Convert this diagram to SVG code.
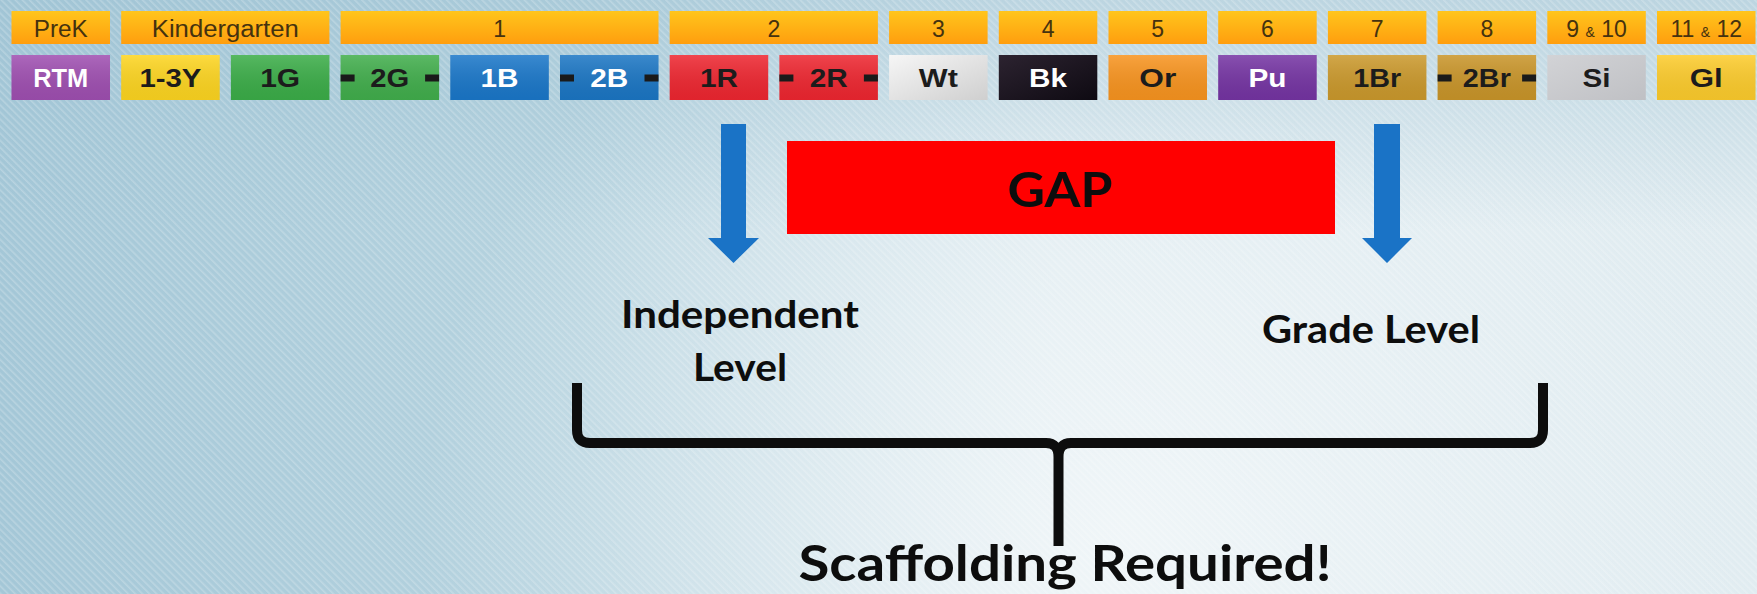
<svg xmlns="http://www.w3.org/2000/svg" width="1757" height="594" viewBox="0 0 1757 594">
  <defs>
    <linearGradient id="bgH" x1="0" y1="0" x2="1757" y2="0" gradientUnits="userSpaceOnUse">
      <stop offset="0" stop-color="#a4c7d7"/>
      <stop offset="0.33" stop-color="#b6d3df"/>
      <stop offset="0.6" stop-color="#dae8ee"/>
      <stop offset="1" stop-color="#dfebf0"/>
    </linearGradient>
    <radialGradient id="bgR" cx="1120" cy="540" r="700" gradientUnits="userSpaceOnUse">
      <stop offset="0" stop-color="#f2f7f9" stop-opacity="0.9"/>
      <stop offset="1" stop-color="#f2f7f9" stop-opacity="0"/>
    </radialGradient>
    <linearGradient id="bgTop" x1="0" y1="0" x2="0" y2="230" gradientUnits="userSpaceOnUse">
      <stop offset="0" stop-color="#9fc3d4" stop-opacity="0.55"/>
      <stop offset="1" stop-color="#9fc3d4" stop-opacity="0"/>
    </linearGradient>
    <pattern id="stripes" width="5" height="5" patternUnits="userSpaceOnUse" patternTransform="rotate(-45)">
      <rect x="0" y="0" width="1.6" height="5" fill="#ffffff" fill-opacity="0.22"/>
    </pattern>
    <linearGradient id="hdr" x1="0" y1="0" x2="0" y2="1">
      <stop offset="0" stop-color="#ffc51c"/>
      <stop offset="1" stop-color="#ff9e0e"/>
    </linearGradient>
    <linearGradient id="shine" x1="0" y1="0" x2="0" y2="1">
      <stop offset="0" stop-color="#ffffff" stop-opacity="0.14"/>
      <stop offset="1" stop-color="#000000" stop-opacity="0.06"/>
    </linearGradient>
    <linearGradient id="gWt" x1="0" y1="0" x2="1" y2="1">
      <stop offset="0" stop-color="#f6f6f6"/>
      <stop offset="1" stop-color="#cfcfcf"/>
    </linearGradient>
    <linearGradient id="gBk" x1="0" y1="0" x2="1" y2="1">
      <stop offset="0" stop-color="#2c2330"/>
      <stop offset="1" stop-color="#0e0a12"/>
    </linearGradient>
    <linearGradient id="gSi" x1="0" y1="0" x2="1" y2="1">
      <stop offset="0" stop-color="#d2d3d6"/>
      <stop offset="1" stop-color="#bfc0c4"/>
    </linearGradient>
    <style>
      .hdr { fill: url(#hdr); }
      .ht { font-family: "Liberation Sans", Arial, sans-serif; font-size: 23px; fill: #45320f; text-anchor: middle; }
      .bt { font-family: "Liberation Sans", Arial, sans-serif; font-size: 25px; font-weight: bold; fill: #1c1c1c; text-anchor: middle; }
      .wt { fill: #ffffff; }
      .dash { fill: #1a1a1a; }
      .big { font-family: Lato, "Open Sans", sans-serif; font-weight: bold; fill: #0d0d0d; text-anchor: middle; }
      .arrow { fill: #1a73c6; }
      .brace { fill: none; stroke: #0d0d0d; stroke-width: 10; stroke-linejoin: round; }
    </style>
  </defs>

  <!-- background -->
  <rect x="0" y="0" width="1757" height="594" fill="url(#bgH)"/>
  <rect x="0" y="0" width="1757" height="594" fill="url(#bgR)"/>
  <rect x="0" y="0" width="1757" height="594" fill="url(#bgTop)"/>
  <rect x="0" y="0" width="1757" height="594" fill="url(#stripes)"/>

  <!-- grade headers -->
  <g id="grade-headers">
    <g id="h-prek"><rect class="hdr" x="11.5" y="11" width="98.5" height="33"/><text class="ht" x="60.75" y="37" textLength="54" lengthAdjust="spacingAndGlyphs">PreK</text></g>
    <g id="h-k"><rect class="hdr" x="121.2" y="11" width="208.2" height="33"/><text class="ht" x="225.3" y="37" textLength="147" lengthAdjust="spacingAndGlyphs">Kindergarten</text></g>
    <g id="h-1"><rect class="hdr" x="340.6" y="11" width="317.9" height="33"/><text class="ht" x="499.55" y="37">1</text></g>
    <g id="h-2"><rect class="hdr" x="669.7" y="11" width="208.2" height="33"/><text class="ht" x="773.8" y="37">2</text></g>
    <g id="h-3"><rect class="hdr" x="889.1" y="11" width="98.5" height="33"/><text class="ht" x="938.35" y="37">3</text></g>
    <g id="h-4"><rect class="hdr" x="998.8" y="11" width="98.5" height="33"/><text class="ht" x="1048.05" y="37">4</text></g>
    <g id="h-5"><rect class="hdr" x="1108.5" y="11" width="98.5" height="33"/><text class="ht" x="1157.75" y="37">5</text></g>
    <g id="h-6"><rect class="hdr" x="1218.2" y="11" width="98.5" height="33"/><text class="ht" x="1267.45" y="37">6</text></g>
    <g id="h-7"><rect class="hdr" x="1327.9" y="11" width="98.5" height="33"/><text class="ht" x="1377.15" y="37">7</text></g>
    <g id="h-8"><rect class="hdr" x="1437.6" y="11" width="98.5" height="33"/><text class="ht" x="1486.85" y="37">8</text></g>
    <g id="h-9-10"><rect class="hdr" x="1547.3" y="11" width="98.5" height="33"/><text class="ht" x="1596.55" y="37">9 <tspan font-size="14">&amp;</tspan> 10</text></g>
    <g id="h-11-12"><rect class="hdr" x="1657" y="11" width="98.5" height="33"/><text class="ht" x="1706.25" y="37">11 <tspan font-size="14">&amp;</tspan> 12</text></g>
  </g>

  <!-- level boxes -->
  <g id="levels">
    <g id="l-rtm"><rect x="11.5" y="55" width="98.5" height="45" fill="#9f4fb1"/><rect x="11.5" y="55" width="98.5" height="45" fill="url(#shine)"/><text class="bt wt" x="60.75" y="87" textLength="55" lengthAdjust="spacingAndGlyphs">RTM</text></g>
    <g id="l-13y"><rect x="121.2" y="55" width="98.5" height="45" fill="#fdd520"/><rect x="121.2" y="55" width="98.5" height="45" fill="url(#shine)"/><text class="bt" x="170.45" y="87" textLength="62" lengthAdjust="spacingAndGlyphs">1-3Y</text></g>
    <g id="l-1g"><rect x="230.9" y="55" width="98.5" height="45" fill="#3bad48"/><rect x="230.9" y="55" width="98.5" height="45" fill="url(#shine)"/><text class="bt" x="280.15" y="87" textLength="40" lengthAdjust="spacingAndGlyphs">1G</text></g>
    <g id="l-2g"><rect x="340.6" y="55" width="98.5" height="45" fill="#41ae4c"/><rect x="340.6" y="55" width="98.5" height="45" fill="url(#shine)"/><rect class="dash" x="340.6" y="74.5" width="14" height="7"/><rect class="dash" x="425.1" y="74.5" width="14" height="7"/><text class="bt" x="389.85" y="87" textLength="39" lengthAdjust="spacingAndGlyphs">2G</text></g>
    <g id="l-1b"><rect x="450.3" y="55" width="98.5" height="45" fill="#1a77c9"/><rect x="450.3" y="55" width="98.5" height="45" fill="url(#shine)"/><text class="bt wt" x="499.55" y="87" textLength="38" lengthAdjust="spacingAndGlyphs">1B</text></g>
    <g id="l-2b"><rect x="560" y="55" width="98.5" height="45" fill="#1b76c4"/><rect x="560" y="55" width="98.5" height="45" fill="url(#shine)"/><rect class="dash" x="560" y="74.5" width="14" height="7"/><rect class="dash" x="644.5" y="74.5" width="14" height="7"/><text class="bt wt" x="609.25" y="87" textLength="38" lengthAdjust="spacingAndGlyphs">2B</text></g>
    <g id="l-1r"><rect x="669.7" y="55" width="98.5" height="45" fill="#ee2630"/><rect x="669.7" y="55" width="98.5" height="45" fill="url(#shine)"/><text class="bt" x="718.95" y="87" fill="#3a0b0b" textLength="38" lengthAdjust="spacingAndGlyphs">1R</text></g>
    <g id="l-2r"><rect x="779.4" y="55" width="98.5" height="45" fill="#ee2630"/><rect x="779.4" y="55" width="98.5" height="45" fill="url(#shine)"/><rect class="dash" x="779.4" y="74.5" width="14" height="7"/><rect class="dash" x="863.9" y="74.5" width="14" height="7"/><text class="bt" x="828.65" y="87" textLength="38" lengthAdjust="spacingAndGlyphs">2R</text></g>
    <g id="l-wt"><rect x="889.1" y="55" width="98.5" height="45" fill="url(#gWt)"/><text class="bt" x="938.35" y="87" fill="#333" textLength="39" lengthAdjust="spacingAndGlyphs">Wt</text></g>
    <g id="l-bk"><rect x="998.8" y="55" width="98.5" height="45" fill="url(#gBk)"/><text class="bt wt" x="1048.05" y="87" textLength="38" lengthAdjust="spacingAndGlyphs">Bk</text></g>
    <g id="l-or"><rect x="1108.5" y="55" width="98.5" height="45" fill="#f8941f"/><rect x="1108.5" y="55" width="98.5" height="45" fill="url(#shine)"/><text class="bt" x="1157.75" y="87" textLength="37" lengthAdjust="spacingAndGlyphs">Or</text></g>
    <g id="l-pu"><rect x="1218.2" y="55" width="98.5" height="45" fill="#7534a3"/><rect x="1218.2" y="55" width="98.5" height="45" fill="url(#shine)"/><text class="bt wt" x="1267.45" y="87" textLength="38" lengthAdjust="spacingAndGlyphs">Pu</text></g>
    <g id="l-1br"><rect x="1327.9" y="55" width="98.5" height="45" fill="#cb992c"/><rect x="1327.9" y="55" width="98.5" height="45" fill="url(#shine)"/><text class="bt" x="1377.15" y="87" textLength="48" lengthAdjust="spacingAndGlyphs">1Br</text></g>
    <g id="l-2br"><rect x="1437.6" y="55" width="98.5" height="45" fill="#c99529"/><rect x="1437.6" y="55" width="98.5" height="45" fill="url(#shine)"/><rect class="dash" x="1437.6" y="74.5" width="14" height="7"/><rect class="dash" x="1522.1" y="74.5" width="14" height="7"/><text class="bt" x="1486.85" y="87" textLength="48" lengthAdjust="spacingAndGlyphs">2Br</text></g>
    <g id="l-si"><rect x="1547.3" y="55" width="98.5" height="45" fill="url(#gSi)"/><text class="bt" x="1596.55" y="87" fill="#2a2a2a" textLength="28" lengthAdjust="spacingAndGlyphs">Si</text></g>
    <g id="l-gl"><rect x="1657" y="55" width="98.5" height="45" fill="#fdcc2c"/><rect x="1657" y="55" width="98.5" height="45" fill="url(#shine)"/><text class="bt" x="1706.25" y="87" textLength="33" lengthAdjust="spacingAndGlyphs">Gl</text></g>
  </g>

  <!-- gap -->
  <g id="gap">
    <rect x="787" y="141" width="548" height="93" fill="#ff0000"/>
    <text class="big" x="1060" y="207" font-size="47" textLength="105" lengthAdjust="spacingAndGlyphs">GAP</text>
  </g>

  <!-- labels -->
  <g id="independent-level">
    <text class="big" x="740" y="328" font-size="38" textLength="238" lengthAdjust="spacingAndGlyphs">Independent</text>
    <text class="big" x="740" y="381" font-size="38" textLength="94" lengthAdjust="spacingAndGlyphs">Level</text>
  </g>
  <g id="grade-level">
    <text class="big" x="1371" y="343" font-size="38" textLength="218" lengthAdjust="spacingAndGlyphs">Grade Level</text>
  </g>
  <g id="scaffolding">
    <text class="big" x="1065" y="581" font-size="49" textLength="533" lengthAdjust="spacingAndGlyphs">Scaffolding Required!</text>
  </g>

  <!-- connectors -->
  <g id="connectors">
    <polygon class="arrow" points="721,124 746,124 746,238 759,238 733.5,263 708,238 721,238"/>
    <polygon class="arrow" points="1374,124 1400,124 1400,238 1412,238 1387,263 1362,238 1374,238"/>
    <path class="brace" d="M577,383 L577,430 Q577,443 590,443 L1046,443 Q1058.5,443 1058.5,457 L1058.5,546 M1058.5,457 Q1058.5,443 1071,443 L1530,443 Q1543,443 1543,430 L1543,383"/>
  </g>
</svg>
